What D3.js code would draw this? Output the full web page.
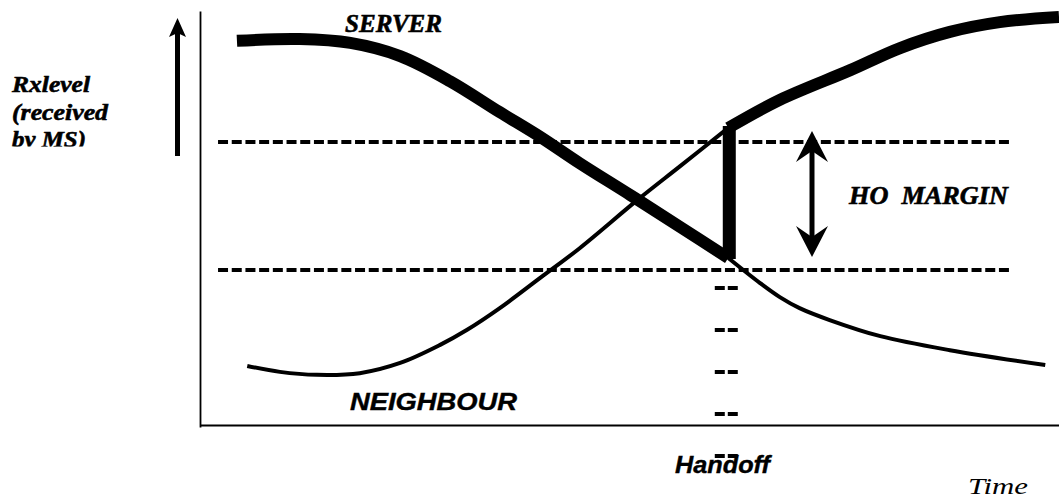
<!DOCTYPE html>
<html>
<head>
<meta charset="utf-8">
<script src="https://cdn.jsdelivr.net/npm/d3@7/dist/d3.min.js"></script>
<style>
	body { margin: 0; background: #fff; }
	svg { display: block; }
	.serif { font-family: "Liberation Serif", "Times New Roman", serif; font-style: italic; font-weight: bold; stroke: #000; stroke-width: 0.6px; }
	.sans { font-family: "Liberation Sans", Arial, sans-serif; font-style: italic; font-weight: bold; stroke: #000; stroke-width: 0.4px; }
</style>
</head>
<body>
<div id="handoffVis"></div>
<script>
//###########################################################################
//#                              Data                                       #
//###########################################################################

// time axis 0..100, received level 0..100 (arbitrary units)
var oldServerTime  = [4.3, 11.6, 17.5, 23.3, 29.1, 34.9, 39.6, 44.2, 50.1, 55.9, 61.5, 65.2, 67.5, 69.8, 73.3, 79.2, 87.3, 98.4];
var oldServerLevel = [90.4, 90.8, 89.9, 86.8, 80.9, 73.6, 67.8, 61.6, 54.1, 46.6, 39.3, 33.4, 30.1, 27.5, 24.7, 20.9, 17.6, 14.1];

var neighbourTime  = [5.5, 9.3, 13.6, 18.6, 23.3, 27.9, 31.1, 34.9, 39.6, 44.2, 50.9, 55.9, 61.5, 67.5, 75.7, 81.5, 87.3, 93.1, 100];
var neighbourLevel = [13.9, 12.5, 11.8, 12.2, 14.6, 18.8, 22.4, 27.5, 34.6, 41.6, 52.9, 60.9, 69.9, 76.5, 83.5, 88.7, 92.5, 94.8, 96.0];

var handoffTime = 61.5;
var thresholdLevels = [66.6, 36.5];		// upper / lower dashed lines (HO margin)
var thresholdSpan = [2.1, 94.6];		// time range covered by the dashed lines

var yLabelLines = ["Rxlevel", "(received", "by MS)"];

//###########################################################################
//#                         Handoff diagram                                 #
//###########################################################################

function zipSeries(times, levels){
	var res = [];
	for(var i = 0; i < times.length; i++){
		res.push({t: times[i], v: levels[i]});
	}
	return res;
}

generateHandoffVis();

function generateHandoffVis(){
	var width = 1059;
	var height = 500;
	var thick = 12;
	var thin = 4;

	var svg = d3.select("#handoffVis")
				.append("svg")
				.attr("width", width)
				.attr("height", height);

	var xscale = d3.scaleLinear().domain([0, 100]).range([200, 1059]);
	var yscale = d3.scaleLinear().domain([0, 100]).range([425, 0]);

	//Axes: plain lines, no ticks
	var xaxis = d3.axisBottom().scale(xscale).tickValues([]).tickSizeOuter(0);
	var yaxis = d3.axisLeft().scale(yscale.copy().range([427, 11])).tickValues([]).tickSizeOuter(0);
	svg.append("g").attr("class", "xaxis").attr("transform", "translate(0,425)").call(xaxis)
		.select(".domain").attr("stroke", "#000").attr("stroke-width", 2);
	svg.append("g").attr("class", "yaxis").attr("transform", "translate(200,0)").call(yaxis)
		.select(".domain").attr("stroke", "#000").attr("stroke-width", 1.8);

	//HO margin dashed lines
	svg.selectAll("line.threshold")
		.data(thresholdLevels)
		.enter().append("line")
			.attr("class", "threshold")
			.attr("x1", xscale(thresholdSpan[0]))
			.attr("x2", xscale(thresholdSpan[1]))
			.attr("y1", function(d) { return yscale(d); })
			.attr("y2", function(d) { return yscale(d); })
			.attr("stroke", "#000")
			.attr("stroke-width", 4)
			.attr("stroke-dasharray", "10,3.7");

	//Handoff instant marks under the lower line
	var hx = xscale(handoffTime) - 2;
	var firstMark = yscale(thresholdLevels[1]) + 18;
	svg.selectAll("line.handoffMark")
		.data(d3.range(5))
		.enter().append("line")
			.attr("class", "handoffMark")
			.attr("x1", hx - 11.5)
			.attr("x2", hx + 11.5)
			.attr("y1", function(i) { return firstMark + i * 42; })
			.attr("y2", function(i) { return firstMark + i * 42; })
			.attr("stroke", "#000")
			.attr("stroke-width", 4)
			.attr("stroke-dasharray", "10,3");

	var line = d3.line()
		.x(function(d) { return xscale(d.t); })
		.y(function(d) { return yscale(d.v); })
		.curve(d3.curveCatmullRom.alpha(0.5));

	var oldServer = zipSeries(oldServerTime, oldServerLevel);
	var neighbour = zipSeries(neighbourTime, neighbourLevel);

	var before = function(d) { return d.t <= handoffTime; };
	var after = function(d) { return d.t >= handoffTime; };

	//thin parts: cell that is not serving
	svg.append("path").datum(neighbour.filter(before))
		.attr("d", line).attr("fill", "none").attr("stroke", "#000").attr("stroke-width", thin);
	svg.append("path").datum(oldServer.filter(after))
		.attr("d", line).attr("fill", "none").attr("stroke", "#000").attr("stroke-width", thin);

	//thick parts: serving cell
	svg.append("path").datum(oldServer.filter(before))
		.attr("d", line).attr("fill", "none").attr("stroke", "#000").attr("stroke-width", thick);
	svg.append("path").datum(neighbour.filter(after))
		.attr("d", line).attr("fill", "none").attr("stroke", "#000").attr("stroke-width", thick);

	//jump at handoff
	var oldAtHo = oldServer.filter(function(d) { return d.t == handoffTime; })[0];
	var newAtHo = neighbour.filter(function(d) { return d.t == handoffTime; })[0];
	svg.append("line")
		.attr("x1", xscale(handoffTime) + 1).attr("x2", xscale(handoffTime) + 1)
		.attr("y1", yscale(oldAtHo.v) + 1).attr("y2", yscale(newAtHo.v) - 2)
		.attr("stroke", "#000").attr("stroke-width", 13);

	//HO margin double arrow
	var ax = 812;
	svg.append("line")
		.attr("x1", ax).attr("x2", ax).attr("y1", 145).attr("y2", 243)
		.attr("stroke", "#000").attr("stroke-width", 5);
	svg.append("path")
		.attr("d", "M" + ax + ",131 L" + (ax + 16) + ",162 L" + ax + ",151 L" + (ax - 16) + ",162 Z")
		.attr("fill", "#000");
	svg.append("path")
		.attr("d", "M" + ax + ",257 L" + (ax + 16) + ",226 L" + ax + ",237 L" + (ax - 16) + ",226 Z")
		.attr("fill", "#000");

	//Rxlevel up arrow
	svg.append("line")
		.attr("x1", 177.5).attr("x2", 177.5).attr("y1", 33).attr("y2", 156)
		.attr("stroke", "#000").attr("stroke-width", 5);
	svg.append("path")
		.attr("d", "M177.5,18 L186,37 L177.5,33 L169,37 Z")
		.attr("fill", "#000");

	//======================== Labels ========================
	svg.append("defs").append("clipPath").attr("id", "labelClip")
		.append("rect").attr("x", 0).attr("y", 0).attr("width", 170).attr("height", 146.5);

	var yLabelWidths = [78, 96, 74];
	svg.append("g").attr("clip-path", "url(#labelClip)")
		.selectAll("text")
		.data(yLabelLines)
		.enter().append("text")
			.attr("class", "serif")
			.attr("x", 12)
			.attr("y", function(d, i) { return 92 + i * 27.5; })
			.attr("font-size", 24)
			.attr("textLength", function(d, i) { return yLabelWidths[i]; })
			.attr("lengthAdjust", "spacingAndGlyphs")
			.text(function(d) { return d; });

	function label(txt, cls, x, y, size, len){
		return svg.append("text")
			.attr("class", cls)
			.attr("x", x).attr("y", y)
			.attr("font-size", size)
			.attr("textLength", len)
			.attr("lengthAdjust", "spacingAndGlyphs")
			.style("white-space", "pre")
			.text(txt);
	}

	label("SERVER", "serif", 345, 32, 26, 97);
	label("HO  MARGIN", "serif", 849, 204, 26, 159);
	label("NEIGHBOUR", "sans", 350, 410, 24, 167);
	label("Handoff", "sans", 675, 473, 24, 95);
	label("Time", "serif", 968, 494, 23, 60).style("font-weight", "normal").style("stroke-width", "0px");
}
</script>
</body>
</html>
